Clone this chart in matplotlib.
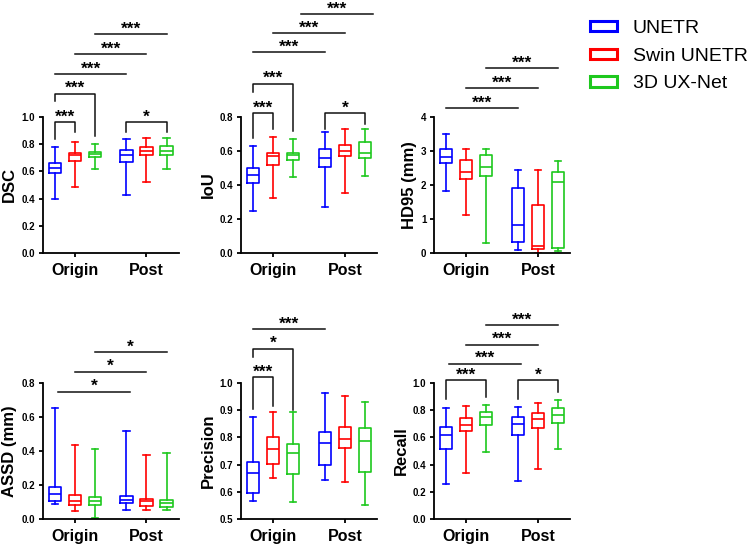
# box plots of segmentation metrics, Origin vs Post, three models
import numpy as np
import matplotlib.pyplot as plt
from matplotlib.patches import Patch

plt.rcParams['font.family'] = ['Liberation Sans', 'DejaVu Sans']

models = ['UNETR', 'Swin UNETR', '3D UX-Net']
colors = ['#0000ff', '#ff0000', '#1ec81e']
groups = ['Origin', 'Post']

# (whisker low, q1, median, q3, whisker high)
# order: Origin UNETR, Swin, UX-Net, Post UNETR, Swin, UX-Net
dsc_stats = [(0.397, 0.586, 0.628, 0.665, 0.778), (0.485, 0.680, 0.717, 0.736, 0.813),
             (0.616, 0.709, 0.731, 0.744, 0.800), (0.429, 0.672, 0.717, 0.759, 0.835),
             (0.520, 0.724, 0.751, 0.776, 0.845), (0.621, 0.719, 0.751, 0.790, 0.845)]
iou_stats = [(0.250, 0.412, 0.459, 0.500, 0.632), (0.322, 0.515, 0.570, 0.587, 0.685),
             (0.445, 0.550, 0.576, 0.591, 0.671), (0.271, 0.507, 0.556, 0.611, 0.712),
             (0.351, 0.568, 0.599, 0.634, 0.728), (0.451, 0.560, 0.591, 0.654, 0.730)]
hd95_stats = [(1.83, 2.65, 2.82, 3.06, 3.50), (1.13, 2.18, 2.39, 2.73, 3.06),
              (0.29, 2.26, 2.54, 2.87, 3.05), (0.08, 0.31, 0.81, 1.92, 2.45),
              (0.01, 0.12, 0.22, 1.41, 2.43), (0.05, 0.14, 2.08, 2.39, 2.72)]
assd_stats = [(0.089, 0.108, 0.150, 0.189, 0.654), (0.045, 0.085, 0.106, 0.140, 0.437),
              (0.004, 0.085, 0.106, 0.130, 0.414), (0.055, 0.095, 0.114, 0.138, 0.520),
              (0.053, 0.079, 0.104, 0.118, 0.374), (0.055, 0.073, 0.093, 0.110, 0.390)]
prec_stats = [(0.565, 0.596, 0.669, 0.710, 0.874), (0.651, 0.701, 0.758, 0.802, 0.894),
              (0.562, 0.664, 0.744, 0.777, 0.895), (0.642, 0.699, 0.778, 0.821, 0.962),
              (0.636, 0.760, 0.793, 0.837, 0.951), (0.552, 0.672, 0.788, 0.835, 0.931)]
recall_stats = [(0.259, 0.517, 0.618, 0.677, 0.815), (0.335, 0.648, 0.690, 0.746, 0.830),
                (0.495, 0.692, 0.749, 0.786, 0.835), (0.276, 0.616, 0.702, 0.751, 0.825),
                (0.365, 0.667, 0.736, 0.778, 0.855), (0.517, 0.709, 0.768, 0.813, 0.874)]

# significance marks: (box i, box j, height, leg end i, leg end j, label, x shift)
dsc_sig = [(0, 1, 0.963, 0.84, 0.887, '***', 0), (0, 2, 1.172, 1.116, 0.862, '***', 0),
           (3, 5, 0.963, 0.887, 0.887, '*', 0), (0, 3, 1.316, None, None, '***', 0),
           (1, 4, 1.463, None, None, '***', 0), (2, 5, 1.610, None, None, '***', 0)]
iou_sig = [(0, 1, 0.821, 0.679, 0.732, '***', 0), (0, 2, 0.995, 0.948, 0.718, '***', 0),
           (3, 5, 0.821, 0.732, 0.76, '*', 0), (0, 3, 1.180, None, None, '***', 0),
           (1, 4, 1.294, None, None, '***', 0), (2, 5, 1.405, None, None, '***', 0.11)]
hd95_sig = [(0, 3, 4.26, None, None, '***', 0), (1, 4, 4.84, None, None, '***', 0),
            (2, 5, 5.43, None, None, '***', 0)]
assd_sig = [(0, 3, 0.749, None, None, '*', 0.05), (1, 4, 0.865, None, None, '*', 0),
            (2, 5, 0.981, None, None, '*', 0)]
prec_sig = [(0, 1, 1.021, 0.904, 0.916, '***', 0), (0, 2, 1.126, 1.096, 0.901, '*', 0),
            (0, 3, 1.198, None, None, '***', 0)]
recall_sig = [(0, 2, 1.02, 0.879, 0.899, '***', 0), (3, 5, 1.02, 0.886, 0.936, '*', 0),
              (0, 3, 1.140, None, None, '***', 0.04), (1, 4, 1.281, None, None, '***', 0),
              (2, 5, 1.426, None, None, '***', 0)]

W, H = 748, 546
fig = plt.figure(figsize=(W / 100, H / 100), dpi=100)

offsets = [-0.28, 0.0, 0.28]
pos = [g + o for g in range(len(groups)) for o in offsets]


def px_axes(left, top, w=136, h=136):
    return fig.add_axes([left / W, 1 - (top + h) / H, w / W, h / H])


def draw_panel(ax, stats, ylabel, yticks, sig):
    for k, s in enumerate(stats):
        c = colors[k % 3]
        st = dict(whislo=s[0], q1=s[1], med=s[2], q3=s[3], whishi=s[4], fliers=[])
        lp = dict(color=c, lw=1.2)
        ax.bxp([st], positions=[pos[k]], widths=0.17, capwidths=0.09,
               showfliers=False, boxprops=lp, medianprops=lp,
               whiskerprops=lp, capprops=lp)
    for i, j, y, li, lj, lab, dx in sig:
        x1, x2 = pos[i] + dx, pos[j] + dx
        if li is None:
            ax.plot([x1, x2], [y, y], color='#111111', lw=1.1, clip_on=False)
        else:
            ax.plot([x1, x1, x2, x2], [li, y, y, lj], color='#111111', lw=1.1,
                    clip_on=False)
        ax.annotate(lab, ((x1 + x2) / 2, y), xytext=(0, 0.5), textcoords='offset points',
                    ha='center', va='baseline', fontsize=12.5, fontweight='bold',
                    annotation_clip=False)
    ax.set_xlim(-0.45, 1.45)
    ax.set_ylim(yticks[0], yticks[-1])
    ax.set_yticks(yticks)
    ax.set_yticklabels([f'{t:g}' if t == int(t) and yticks[-1] > 2 else f'{t:.1f}'
                        for t in yticks], fontsize=7, fontweight='bold')
    ax.set_xticks(range(len(groups)))
    ax.set_xticklabels(groups, fontsize=11.5, fontweight='bold')
    ax.set_ylabel(ylabel, fontsize=12, fontweight='bold', labelpad=3)
    for side in ['top', 'right']:
        ax.spines[side].set_visible(False)
    for side in ['left', 'bottom']:
        ax.spines[side].set_linewidth(1.3)
    ax.tick_params(axis='y', length=3, width=1.3, pad=2.5)
    ax.tick_params(axis='x', length=3, width=1.3, pad=4)


ax1 = px_axes(42.7, 117)
draw_panel(ax1, dsc_stats, 'DSC', np.linspace(0, 1, 6), dsc_sig)
ax2 = px_axes(241, 117)
draw_panel(ax2, iou_stats, 'IoU', np.linspace(0, 0.8, 5), iou_sig)
ax3 = px_axes(434, 117)
draw_panel(ax3, hd95_stats, 'HD95 (mm)', np.arange(0, 5), hd95_sig)
ax4 = px_axes(42.7, 383)
draw_panel(ax4, assd_stats, 'ASSD (mm)', np.linspace(0, 0.8, 5), assd_sig)
ax5 = px_axes(241, 383)
draw_panel(ax5, prec_stats, 'Precision', np.linspace(0.5, 1.0, 6), prec_sig)
ax6 = px_axes(434, 383)
draw_panel(ax6, recall_stats, 'Recall', np.linspace(0, 1, 6), recall_sig)

handles = [Patch(facecolor='white', edgecolor=c, lw=2.2, label=m)
           for m, c in zip(models, colors)]
fig.legend(handles=handles, loc='upper left', bbox_to_anchor=(590 / W, 1 - 20 / H),
           frameon=False, fontsize=14, handlelength=1.4, handleheight=0.45,
           handletextpad=0.8, labelspacing=0.55, borderpad=0, borderaxespad=0)

fig.savefig('out.png', dpi=100)
